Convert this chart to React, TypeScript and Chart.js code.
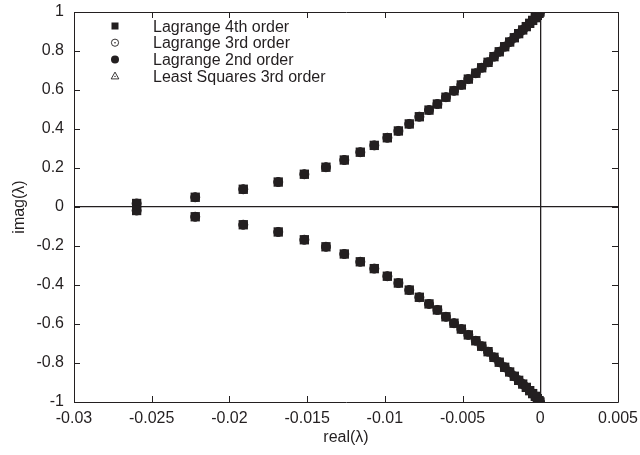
import React, { useEffect, useRef } from 'react';
import { Chart, registerables } from 'chart.js';

Chart.register(...registerables);

// Eigenvalue branch (upper half; the lower half is its complex conjugate)
const realParts = [
  -0.02597, -0.0222, -0.01911, -0.01686, -0.01518, -0.01379, -0.01261, -0.01158,
  -0.01068, -0.00984, -0.00913, -0.00843, -0.00778, -0.00716, -0.00662, -0.00607,
  -0.00555, -0.00508, -0.00463, -0.00415, -0.00377, -0.00336, -0.00298, -0.00264,
  -0.00229, -0.00197, -0.00167, -0.00139, -0.00113, -0.0009, -0.00068, -0.00049,
  -0.00032, -0.00019, -0.00008, -0.00002,
];
const imagParts = [
  0.018, 0.05, 0.091, 0.128, 0.168, 0.204, 0.241, 0.281,
  0.316, 0.355, 0.39, 0.426, 0.463, 0.497, 0.528, 0.563,
  0.596, 0.626, 0.656, 0.686, 0.714, 0.742, 0.771, 0.796,
  0.822, 0.846, 0.868, 0.889, 0.908, 0.925, 0.942, 0.957,
  0.971, 0.983, 0.993, 1.0,
];

const seriesLabels = [
  'Lagrange 4th order',
  'Lagrange 3rd order',
  'Lagrange 2nd order',
  'Least Squares 3rd order',
];

const xTicks = [-0.03, -0.025, -0.02, -0.015, -0.01, -0.005, 0, 0.005];
const yTicks = [-1, -0.8, -0.6, -0.4, -0.2, 0, 0.2, 0.4, 0.6, 0.8, 1];

const INK = '#231f20';
const FONT = '"Liberation Sans", Arial, Helvetica, sans-serif';

const framePlugin = {
  id: 'gnuFrame',
  beforeDatasetsDraw(chart: any) {
    const { ctx, chartArea } = chart;
    const { left, right, top, bottom } = chartArea;
    ctx.save();
    ctx.strokeStyle = INK;
    ctx.lineWidth = 1;
    ctx.beginPath();
    ctx.rect(Math.round(left) + 0.5, Math.round(top) + 0.5, Math.round(right - left), Math.round(bottom - top));
    ctx.stroke();
    const tl = 6;
    const xs = chart.scales.x;
    const ys = chart.scales.y;
    ctx.beginPath();
    xs.ticks.forEach((t: any) => {
      const px = Math.round(xs.getPixelForValue(t.value)) + 0.5;
      ctx.moveTo(px, bottom);
      ctx.lineTo(px, bottom - tl);
      ctx.moveTo(px, top);
      ctx.lineTo(px, top + tl);
    });
    ys.ticks.forEach((t: any) => {
      const py = Math.round(ys.getPixelForValue(t.value)) + 0.5;
      ctx.moveTo(left, py);
      ctx.lineTo(left + tl, py);
      ctx.moveTo(right, py);
      ctx.lineTo(right - tl, py);
    });
    ctx.stroke();
    ctx.restore();
  },
};

const legendPlugin = {
  id: 'gnuLegend',
  afterDraw(chart: any) {
    const { ctx } = chart;
    const mx = 115;
    const tx = 153;
    const y0 = 26;
    const dy = 16.7;
    ctx.save();
    ctx.font = `16px ${FONT}`;
    ctx.fillStyle = INK;
    ctx.strokeStyle = INK;
    ctx.textAlign = 'left';
    ctx.textBaseline = 'alphabetic';
    chart.data.datasets.forEach((ds: any, i: number) => {
      const cy = y0 + i * dy;
      ctx.lineWidth = 0.9;
      if (i === 0) {
        ctx.fillRect(mx - 3.5, cy - 3.5, 7, 7);
      } else if (i === 1) {
        ctx.beginPath();
        ctx.arc(mx, cy, 3.6, 0, Math.PI * 2);
        ctx.stroke();
        ctx.beginPath();
        ctx.arc(mx, cy, 0.8, 0, Math.PI * 2);
        ctx.fill();
      } else if (i === 2) {
        ctx.beginPath();
        ctx.arc(mx, cy, 4, 0, Math.PI * 2);
        ctx.fill();
      } else {
        ctx.beginPath();
        ctx.moveTo(mx, cy - 4);
        ctx.lineTo(mx - 3.8, cy + 2.8);
        ctx.lineTo(mx + 3.8, cy + 2.8);
        ctx.closePath();
        ctx.stroke();
        ctx.beginPath();
        ctx.arc(mx, cy + 0.3, 0.7, 0, Math.PI * 2);
        ctx.fill();
      }
      ctx.fillText(ds.label, tx, cy + 5.7);
    });
    ctx.restore();
  },
};

const eigenPoints = () =>
  realParts.flatMap((r, i) => [
    { x: r, y: imagParts[i] },
    { x: r, y: -imagParts[i] },
  ]);

export default function App() {
  const ref = useRef<HTMLCanvasElement | null>(null);

  useEffect(() => {
    if (!ref.current) return;
    const zeroLine = (c: any) => (c.tick && c.tick.value === 0 ? INK : 'rgba(0,0,0,0)');
    const chart = new Chart(ref.current, {
      type: 'scatter',
      data: {
        datasets: [
          {
            label: seriesLabels[0],
            data: eigenPoints(),
            pointStyle: 'rect',
            pointRadius: 6.6,
            pointBorderWidth: 0,
            backgroundColor: INK,
            borderColor: INK,
          },
          {
            label: seriesLabels[1],
            data: eigenPoints(),
            pointStyle: 'circle',
            pointRadius: 4.5,
            pointBorderWidth: 1,
            backgroundColor: 'rgba(0,0,0,0)',
            borderColor: INK,
          },
          {
            label: seriesLabels[2],
            data: eigenPoints(),
            pointStyle: 'circle',
            pointRadius: 4.5,
            pointBorderWidth: 0,
            backgroundColor: INK,
            borderColor: INK,
          },
          {
            label: seriesLabels[3],
            data: eigenPoints(),
            pointStyle: 'triangle',
            pointRadius: 4.5,
            pointBorderWidth: 1,
            backgroundColor: 'rgba(0,0,0,0)',
            borderColor: INK,
          },
        ],
      },
      options: {
        animation: false,
        responsive: false,
        maintainAspectRatio: false,
        layout: { padding: { left: 0, top: 12, right: 22, bottom: 0 } },
        plugins: {
          legend: { display: false },
          tooltip: { enabled: false },
        },
        scales: {
          x: {
            type: 'linear',
            min: -0.03,
            max: 0.005,
            afterBuildTicks: (s: any) => {
              s.ticks = xTicks.map((v) => ({ value: v }));
            },
            afterFit: (s: any) => {
              s.height = 53;
              s.paddingLeft = 0;
              s.paddingRight = 0;
              s.paddingTop = 0;
              s.paddingBottom = 0;
            },
            ticks: {
              callback: (v: any) => String(v),
              color: INK,
              font: { family: FONT, size: 16 },
              padding: 7,
              maxRotation: 0,
              autoSkip: false,
            },
            grid: { drawTicks: false, color: zeroLine, lineWidth: 1.3 },
            border: { display: false },
            title: {
              display: true,
              text: 'real(λ)',
              color: INK,
              font: { family: FONT, size: 16 },
              padding: { top: 0, bottom: 8 },
            },
          },
          y: {
            type: 'linear',
            min: -1,
            max: 1,
            afterBuildTicks: (s: any) => {
              s.ticks = yTicks.map((v) => ({ value: v }));
            },
            afterFit: (s: any) => {
              s.width = 74;
              s.paddingLeft = 0;
              s.paddingRight = 0;
              s.paddingTop = 0;
              s.paddingBottom = 0;
            },
            ticks: {
              callback: (v: any) => String(v),
              color: INK,
              font: { family: FONT, size: 16 },
              padding: 10,
              autoSkip: false,
            },
            grid: { drawTicks: false, color: zeroLine, lineWidth: 1.3 },
            border: { display: false },
            title: {
              display: true,
              text: 'imag(λ)',
              color: INK,
              font: { family: FONT, size: 16 },
              padding: { top: 10, bottom: 0 },
            },
          },
        },
      },
      plugins: [framePlugin, legendPlugin],
    });
    return () => chart.destroy();
  }, []);

  return (
    <div style={{ position: 'fixed', left: 0, top: 0, width: 640, height: 455, background: '#fff' }}>
      <canvas ref={ref} width={640} height={455} style={{ width: 640, height: 455, display: 'block' }} />
    </div>
  );
}
